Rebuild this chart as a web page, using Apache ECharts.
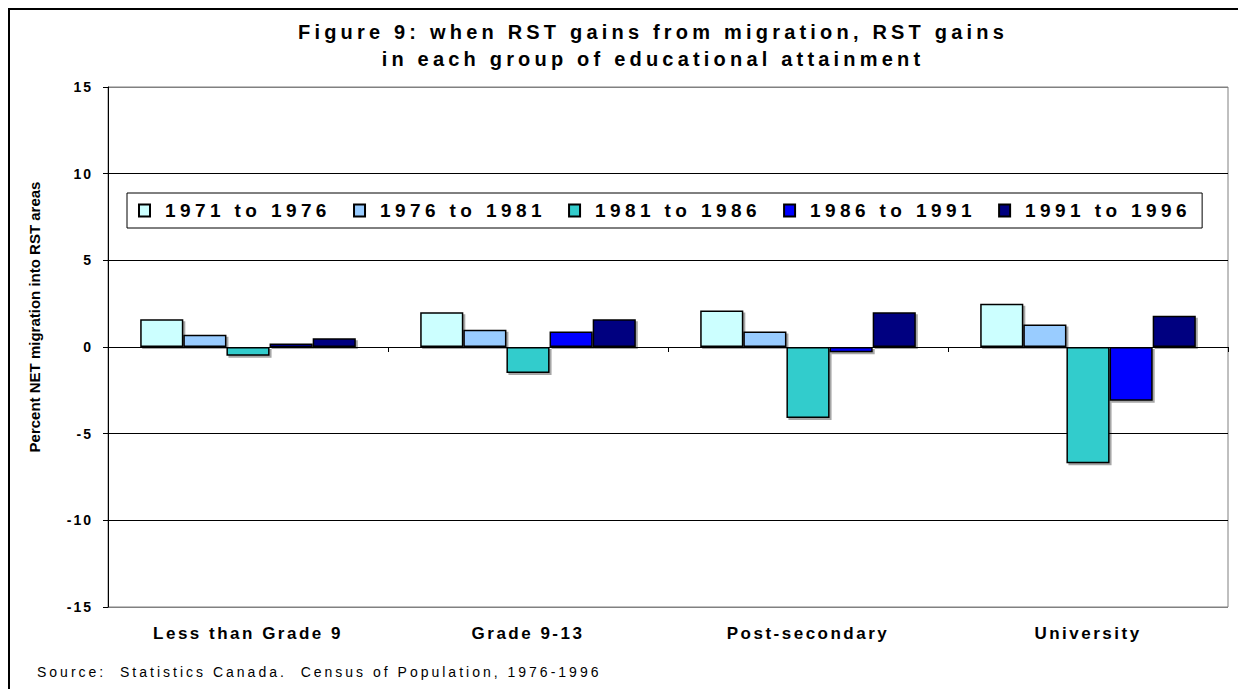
<!DOCTYPE html>
<html>
<head>
<meta charset="utf-8">
<title>Figure 9</title>
<script src="https://cdn.jsdelivr.net/npm/echarts@6/dist/echarts.min.js"></script>
<style>
  html, body { margin: 0; padding: 0; background: #fff; }
  #chart { width: 1238px; height: 689px; }
  /* the original is set with wide letter spacing; svg text takes it from css,
     the fake family names (spTitle etc) are only hooks for these selectors */
  #chart text { white-space: pre; }
  #chart text[style*="spTitle"] { letter-spacing: 4.2px; }
  #chart text[style*="spLegend"] { letter-spacing: 4.4px; }
  #chart text[style*="spCat"] { letter-spacing: 2.5px; }
  #chart text[style*="spTick"] { letter-spacing: 2px; }
  #chart text[style*="spSource"] { letter-spacing: 3px; }
</style>
</head>
<body>
<div id="chart"></div>
<script>
// education groups on the x axis
const categories = ['Less than Grade 9', 'Grade 9-13', 'Post-secondary', 'University']
// census periods (one bar each)
const periods = ['1971 to 1976', '1976 to 1981', '1981 to 1986', '1986 to 1991', '1991 to 1996']
// percent NET migration into RST areas
const v1971_1976 = [1.6, 2.0, 2.1, 2.5]
const v1976_1981 = [0.7, 1.0, 0.9, 1.3]
const v1981_1986 = [-0.5, -1.5, -4.1, -6.7]
const v1986_1991 = [0.2, 0.9, -0.3, -3.1]
const v1991_1996 = [0.5, 1.6, 2.0, 1.8]
// y ticks: -15 .. 15 by 5
const yMin = -15
const yMax = 15
const yStep = 5

const periodValues = [v1971_1976, v1976_1981, v1981_1986, v1986_1991, v1991_1996]
const barColors = ['#CCFFFF', '#99CCFF', '#33CCCC', '#0000FF', '#000080']

let myChart = echarts.init(document.getElementById('chart'), null, { renderer: 'svg' })

let option = {
  animation: false,
  backgroundColor: '#fff',
  title: {
    text: 'Figure 9: when RST gains from migration, RST gains\nin each group of educational attainment',
    left: 653,
    top: 18,
    textAlign: 'center',
    padding: 0,
    textStyle: {
      fontFamily: 'Arial, spTitle',
      fontSize: 20,
      fontWeight: 'bold',
      lineHeight: 27,
      color: '#000',
    },
  },
  legend: {
    data: periods,
    left: 127,
    top: 193,
    icon: 'rect',
    itemWidth: 11,
    itemHeight: 12,
    itemGap: 75,
    padding: [8, 64, 8, 11],
    borderColor: '#000',
    borderWidth: 1,
    itemStyle: { shadowBlur: 0, shadowOffsetX: 0, shadowOffsetY: 0, shadowColor: 'rgba(0,0,0,0)' },
    textStyle: {
      fontFamily: 'Arial, spLegend',
      fontSize: 19,
      fontWeight: 'bold',
      color: '#000',
      padding: [0, 0, 0, 10],
    },
  },
  grid: {
    left: 108,
    right: 10,
    top: 87,
    bottom: 82,
    show: true,
    borderColor: '#808080',
    borderWidth: 1,
    backgroundColor: '#fff',
  },
  xAxis: [
    {
      // line through zero with the group ticks
      type: 'category',
      data: categories,
      position: 'bottom',
      axisLine: { onZero: true, lineStyle: { color: '#000', width: 1 } },
      axisTick: { show: true, length: 5, lineStyle: { color: '#000' } },
      axisLabel: { show: false },
      splitLine: { show: false },
    },
    {
      // labels under the plot
      type: 'category',
      data: categories,
      position: 'bottom',
      axisLine: { show: false, onZero: false },
      axisTick: { show: false },
      axisLabel: {
        interval: 0,
        margin: 18,
        fontFamily: 'Arial, spCat',
        fontSize: 17,
        fontWeight: 'bold',
        color: '#000',
      },
      splitLine: { show: false },
    },
  ],
  yAxis: {
    type: 'value',
    min: yMin,
    max: yMax,
    interval: yStep,
    axisLine: { show: true, lineStyle: { color: '#000', width: 1 } },
    axisTick: { show: true, length: 5, lineStyle: { color: '#000' } },
    axisLabel: {
      margin: 15,
      fontFamily: 'Arial, spTick',
      fontSize: 14,
      fontWeight: 'bold',
      color: '#000',
    },
    splitLine: {
      show: true,
      lineStyle: { color: ['#808080', '#000', '#000', '#000', '#000', '#000', '#808080'], width: 1 },
    },
  },
  series: periods.map((name, i) => ({
    name: name,
    type: 'bar',
    xAxisIndex: 0,
    data: periodValues[i],
    barGap: '0%',
    barCategoryGap: '23%',
    itemStyle: {
      color: barColors[i],
      borderColor: '#000',
      borderWidth: 1.5,
      shadowColor: 'rgba(0,0,0,0.35)',
      shadowOffsetX: 2,
      shadowOffsetY: 2,
      shadowBlur: 0,
    },
  })),
  graphic: [
    {
      // outer frame, only top and left edges fall inside the picture
      type: 'rect',
      silent: true,
      z: 100,
      shape: { x: 9, y: 9, width: 1300, height: 800 },
      style: { fill: 'none', stroke: '#000', lineWidth: 2 },
    },
    {
      type: 'text',
      x: 34,
      y: 317,
      rotation: Math.PI / 2,
      style: {
        text: 'Percent NET migration into RST areas',
        font: 'bold 15px Arial',
        fill: '#000',
        align: 'center',
        verticalAlign: 'middle',
      },
    },
    {
      type: 'text',
      x: 37,
      y: 672,
      style: {
        text: 'Source:  Statistics Canada.  Census of Population, 1976-1996',
        font: '14px Arial, spSource',
        fill: '#000',
        align: 'left',
        verticalAlign: 'middle',
      },
    },
  ],
}

myChart.setOption(option)
</script>
</body>
</html>
